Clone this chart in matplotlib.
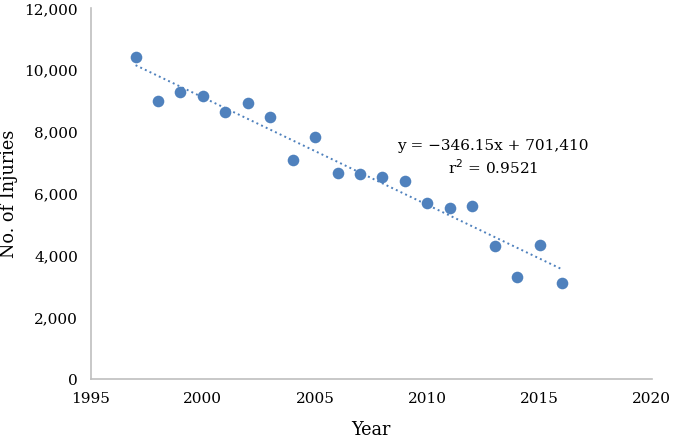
import numpy as np
import matplotlib.pyplot as plt
from matplotlib.ticker import FuncFormatter

plt.rcParams['font.family'] = ['DejaVu Serif']

years = [1997, 1998, 1999, 2000, 2001, 2002, 2003, 2004, 2005, 2006,
         2007, 2008, 2009, 2010, 2011, 2012, 2013, 2014, 2015, 2016]
injuries = [10420, 9010, 9310, 9180, 8665, 8945, 8500, 7110, 7855, 6690,
            6640, 6540, 6420, 5710, 5540, 5595, 4330, 3310, 4355, 3135]

x_ticks = [1995, 2000, 2005, 2010, 2015, 2020]
y_ticks = [0, 2000, 4000, 6000, 8000, 10000, 12000]

fig = plt.figure(figsize=(6.74, 4.41), dpi=100)
ax = fig.add_axes([0.1346, 0.1395, 0.967 - 0.1346, 0.981 - 0.1395])

ax.scatter(years, injuries, s=70, color='#4F81BD', zorder=3, linewidths=0)

# linear trend line
coef = np.polyfit(years, injuries, 1)
xs = np.array([years[0], years[-1]])
ax.plot(xs, np.polyval(coef, xs), linestyle=':', color='#4F81BD', linewidth=1.4)

ax.text(2012.93, 7543, 'y = \u2212346.15x + 701,410', ha='center', va='center', fontsize=11)
ax.text(2012.93, 6853, 'r$^2$ = 0.9521', ha='center', va='center', fontsize=11)

ax.set_xlim(1995, 2020)
ax.set_ylim(0, 12000)
ax.set_xticks(x_ticks)
ax.set_yticks(y_ticks)
ax.yaxis.set_major_formatter(FuncFormatter(lambda v, p: f'{int(v):,}'))

for s in ['top', 'right']:
    ax.spines[s].set_visible(False)
for s in ['left', 'bottom']:
    ax.spines[s].set_color('#BFBFBF')
    ax.spines[s].set_linewidth(1.2)
ax.tick_params(length=0, labelsize=11, pad=9)

ax.set_xlabel('Year', fontsize=12.7)
ax.set_ylabel('No. of Injuries', fontsize=12.7)
ax.xaxis.set_label_coords(0.5, -0.113)
ax.yaxis.set_label_coords(-0.13, 0.5)

fig.savefig('out.png', dpi=100)
